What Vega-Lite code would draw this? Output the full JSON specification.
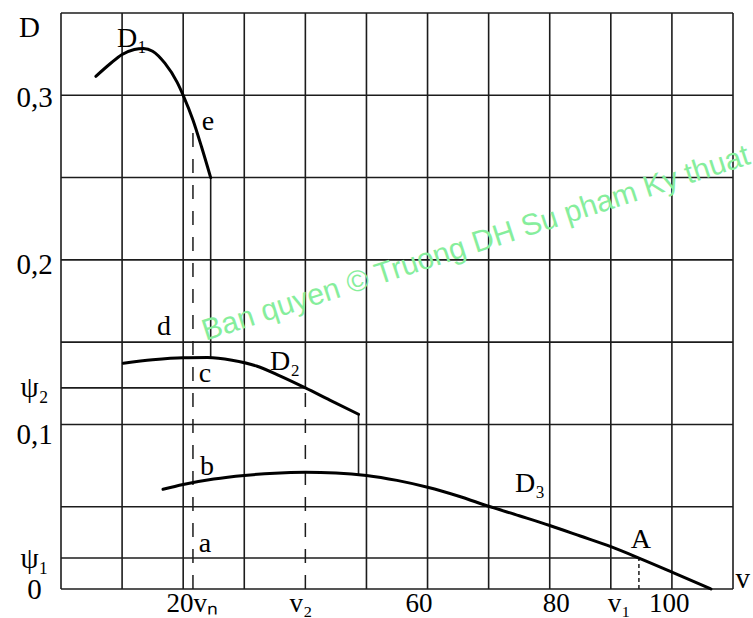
{
  "$schema": "https://vega.github.io/schema/vega-lite/v6.json",
  "width": 672,
  "height": 576,
  "autosize": "none",
  "padding": {"left": 61, "top": 13, "right": 20, "bottom": 29},
  "background": "white",
  "config": {"view": {"stroke": null}},
  "datasets": {
    "grid": [
      {"x": 0, "x2": 0, "y": 0, "y2": 0.35},
      {"x": 10, "x2": 10, "y": 0, "y2": 0.35},
      {"x": 20, "x2": 20, "y": 0, "y2": 0.35},
      {"x": 30, "x2": 30, "y": 0, "y2": 0.35},
      {"x": 40, "x2": 40, "y": 0.1222, "y2": 0.35},
      {"x": 50, "x2": 50, "y": 0, "y2": 0.35},
      {"x": 60, "x2": 60, "y": 0, "y2": 0.35},
      {"x": 70, "x2": 70, "y": 0, "y2": 0.35},
      {"x": 80, "x2": 80, "y": 0, "y2": 0.35},
      {"x": 90, "x2": 90, "y": 0, "y2": 0.35},
      {"x": 100, "x2": 100, "y": 0, "y2": 0.35},
      {"x": 110, "x2": 110, "y": 0, "y2": 0.35},
      {"x": 0, "x2": 110, "y": 0, "y2": 0},
      {"x": 0, "x2": 110, "y": 0.05, "y2": 0.05},
      {"x": 0, "x2": 110, "y": 0.1, "y2": 0.1},
      {"x": 0, "x2": 110, "y": 0.15, "y2": 0.15},
      {"x": 0, "x2": 110, "y": 0.2, "y2": 0.2},
      {"x": 0, "x2": 110, "y": 0.25, "y2": 0.25},
      {"x": 0, "x2": 110, "y": 0.3, "y2": 0.3},
      {"x": 0, "x2": 110, "y": 0.35, "y2": 0.35},
      {"x": 0, "x2": 40, "y": 0.1222, "y2": 0.1222},
      {"x": 0, "x2": 94.6, "y": 0.0188, "y2": 0.0188},
      {"x": 24.5, "x2": 24.5, "y": 0.1406, "y2": 0.25},
      {"x": 48.7, "x2": 48.7, "y": 0.0697, "y2": 0.1062}
    ],
    "dashed": [
      {"x": 21.6, "x2": 21.6, "y": 0, "y2": 0.283},
      {"x": 40, "x2": 40, "y": 0, "y2": 0.1222}
    ],
    "dotted": [
      {"x": 94.6, "x2": 94.6, "y": 0, "y2": 0.0188}
    ],
    "curves": [
      {"curve": "D1", "x": 5.7, "y": 0.3115},
      {"curve": "D1", "x": 8, "y": 0.319},
      {"curve": "D1", "x": 10, "y": 0.3248},
      {"curve": "D1", "x": 12, "y": 0.3278},
      {"curve": "D1", "x": 13.5, "y": 0.3285},
      {"curve": "D1", "x": 15, "y": 0.3268},
      {"curve": "D1", "x": 17, "y": 0.3195},
      {"curve": "D1", "x": 19, "y": 0.308},
      {"curve": "D1", "x": 20, "y": 0.3},
      {"curve": "D1", "x": 21.6, "y": 0.285},
      {"curve": "D1", "x": 23, "y": 0.2687},
      {"curve": "D1", "x": 24.5, "y": 0.25},
      {"curve": "D2", "x": 10.2, "y": 0.1372},
      {"curve": "D2", "x": 15, "y": 0.1393},
      {"curve": "D2", "x": 20, "y": 0.1405},
      {"curve": "D2", "x": 24, "y": 0.1406},
      {"curve": "D2", "x": 28, "y": 0.139},
      {"curve": "D2", "x": 32, "y": 0.1355},
      {"curve": "D2", "x": 36, "y": 0.1292},
      {"curve": "D2", "x": 40, "y": 0.1222},
      {"curve": "D2", "x": 44, "y": 0.1148},
      {"curve": "D2", "x": 48.7, "y": 0.1062},
      {"curve": "D3", "x": 16.7, "y": 0.0606},
      {"curve": "D3", "x": 20, "y": 0.0635},
      {"curve": "D3", "x": 25, "y": 0.0668},
      {"curve": "D3", "x": 30, "y": 0.069},
      {"curve": "D3", "x": 35, "y": 0.0704},
      {"curve": "D3", "x": 40, "y": 0.0709},
      {"curve": "D3", "x": 45, "y": 0.0705},
      {"curve": "D3", "x": 50, "y": 0.069},
      {"curve": "D3", "x": 55, "y": 0.066},
      {"curve": "D3", "x": 60, "y": 0.0618},
      {"curve": "D3", "x": 65, "y": 0.0565},
      {"curve": "D3", "x": 70, "y": 0.0503},
      {"curve": "D3", "x": 75, "y": 0.0445},
      {"curve": "D3", "x": 80, "y": 0.0386},
      {"curve": "D3", "x": 85, "y": 0.0322},
      {"curve": "D3", "x": 90, "y": 0.0257},
      {"curve": "D3", "x": 94.6, "y": 0.0188},
      {"curve": "D3", "x": 100, "y": 0.0103},
      {"curve": "D3", "x": 106.4, "y": 0.0}
    ],
    "letters": [
      {"x": 24.06, "y": 0.279, "text": "e"},
      {"x": 16.86, "y": 0.1544, "text": "d"},
      {"x": 23.57, "y": 0.1258, "text": "c"},
      {"x": 23.9, "y": 0.0693, "text": "b"},
      {"x": 23.57, "y": 0.0225, "text": "a"},
      {"x": 94.9, "y": 0.0249, "text": "A"}
    ],
    "names": [
      {"x": 9.17, "y": 0.3295, "text": "D₁"},
      {"x": 34.2, "y": 0.1331, "text": "D₂"},
      {"x": 74.3, "y": 0.059, "text": "D₃"}
    ],
    "watermark": [
      {"x": 23.7, "y": 0.1508, "text": "Ban quyen © Truong DH Su pham Ky thuat"}
    ]
  },
  "encoding": {
    "x": {
      "field": "x", "type": "quantitative",
      "scale": {"domain": [0, 110], "nice": false, "zero": false},
      "axis": {
        "values": [21.4, 39.2, 58.5, 81, 91.3, 99.5],
        "labelExpr": "datum.value < 30 ? '20vₙ' : datum.value < 50 ? 'v₂' : datum.value < 70 ? '60' : datum.value < 85 ? '80' : datum.value < 95 ? 'v₁' : '100'",
        "domain": false, "ticks": false, "tickSize": 0, "grid": false,
        "labelFont": "Liberation Serif", "labelFontSize": 27, "labelColor": "black",
        "labelBaseline": "alphabetic", "labelPadding": 22, "labelOverlap": false, "labelFlush": false,
        "title": "v", "titleFont": "Liberation Serif", "titleFontSize": 29, "titleFontWeight": "normal", "titleColor": "black",
        "titleX": 674, "titleY": -11, "titleAlign": "left", "titleBaseline": "middle"
      }
    },
    "y": {
      "field": "y", "type": "quantitative",
      "scale": {"domain": [0, 0.35], "nice": false, "zero": false},
      "axis": {
        "values": [0, 0.0188, 0.094, 0.1222, 0.197, 0.2985],
        "labelExpr": "datum.value < 0.005 ? '0' : datum.value < 0.05 ? 'ψ₁' : datum.value < 0.11 ? '0,1' : datum.value < 0.15 ? 'ψ₂' : datum.value < 0.25 ? '0,2' : '0,3'",
        "domain": false, "ticks": false, "tickSize": 0, "grid": false,
        "labelFont": "Liberation Serif", "labelFontSize": 29, "labelColor": "black",
        "labelAlign": "center", "labelBaseline": "middle", "labelPadding": 27, "labelOverlap": false, "labelFlush": false,
        "title": "D", "titleFont": "Liberation Serif", "titleFontSize": 29, "titleFontWeight": "normal", "titleColor": "black",
        "titleAngle": 0, "titleX": -32, "titleY": 14, "titleAlign": "center", "titleBaseline": "middle"
      }
    }
  },
  "layer": [
    {
      "data": {"name": "grid"},
      "mark": {"type": "rule", "color": "#1c1c1c", "strokeWidth": 1.6},
      "encoding": {"x2": {"field": "x2"}, "y2": {"field": "y2"}}
    },
    {
      "data": {"name": "dashed"},
      "mark": {"type": "rule", "color": "#1c1c1c", "strokeWidth": 1.5, "strokeDash": [14, 12]},
      "encoding": {"x2": {"field": "x2"}, "y2": {"field": "y2"}}
    },
    {
      "data": {"name": "dotted"},
      "mark": {"type": "rule", "color": "#1c1c1c", "strokeWidth": 1.5, "strokeDash": [4, 3]},
      "encoding": {"x2": {"field": "x2"}, "y2": {"field": "y2"}}
    },
    {
      "data": {"name": "curves"},
      "mark": {"type": "line", "color": "black", "strokeWidth": 3, "interpolate": "monotone", "strokeCap": "round"},
      "encoding": {"detail": {"field": "curve"}}
    },
    {
      "data": {"name": "letters"},
      "mark": {"type": "text", "font": "Liberation Serif", "fontSize": 28, "color": "black", "align": "center", "baseline": "alphabetic"},
      "encoding": {"text": {"field": "text"}}
    },
    {
      "data": {"name": "names"},
      "mark": {"type": "text", "font": "Liberation Serif", "fontSize": 28, "color": "black", "align": "left", "baseline": "alphabetic"},
      "encoding": {"text": {"field": "text"}}
    },
    {
      "data": {"name": "watermark"},
      "mark": {"type": "text", "font": "Liberation Sans", "fontSize": 30, "color": "#86EE9C", "align": "left", "baseline": "alphabetic", "angle": -18},
      "encoding": {"text": {"field": "text"}}
    }
  ]
}
